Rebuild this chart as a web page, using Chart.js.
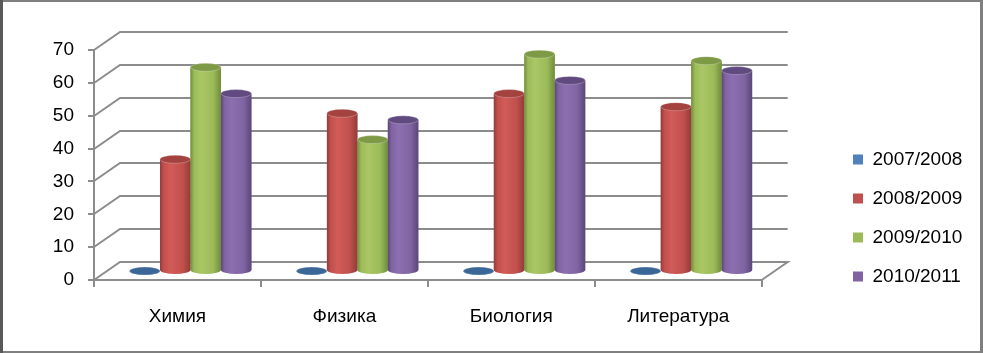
<!DOCTYPE html>
<html>
<head>
<meta charset="utf-8">
<script src="https://cdn.jsdelivr.net/npm/chart.js@4.4.1/dist/chart.umd.min.js"></script>
<style>
  html, body { margin: 0; padding: 0; background: #fff; }
  #wrap { width: 983px; height: 353px; }
</style>
</head>
<body>
<div id="wrap"><canvas id="chart" width="983" height="353"></canvas></div>
<script>
// Data
const subjects = ['Химия', 'Физика', 'Биология', 'Литература'];
const years = ['2007/2008', '2008/2009', '2009/2010', '2010/2011'];
const values0708 = [0, 0, 0, 0];
const values0809 = [34, 48, 54, 50];
const values0910 = [62, 40, 66, 64];
const values1011 = [54, 46, 58, 61];
const yTicks = [0, 10, 20, 30, 40, 50, 60, 70];

// Office colours: base, edge shadow, highlight, top cap
const SERIES_COLORS = [
  { base: '#4F81BD', dark: '#34577F', light: '#6A97CC', cap: '#3A6698' },
  { base: '#C0504D', dark: '#933B39', light: '#D25B58', cap: '#A3423F' },
  { base: '#9BBB59', dark: '#718C3C', light: '#AAC764', cap: '#7E9A46' },
  { base: '#8064A2', dark: '#5B4679', light: '#8C6FB0', cap: '#614A80' }
];
const GRID_COLOR = '#8C8C8C';
const FONT = { family: '"Liberation Sans", Arial, sans-serif', size: 19 };

// 3D offsets: back wall and middle of the depth where the cylinders stand
const WALL_X = 26, WALL_Y = -18;
const DEPTH_X = 13, DEPTH_Y = -9;

// Back wall gridlines and floor
const wallPlugin = {
  id: 'wall',
  beforeDatasetsDraw(chart) {
    const { ctx, chartArea: a, scales: { y } } = chart;
    ctx.save();
    ctx.strokeStyle = GRID_COLOR;
    ctx.lineWidth = 2;
    yTicks.forEach(v => {
      const py = Math.round(y.getPixelForValue(v));
      ctx.beginPath();
      ctx.moveTo(a.left, py);
      ctx.lineTo(a.left + WALL_X, py + WALL_Y);
      ctx.lineTo(a.right + WALL_X, py + WALL_Y);
      if (v === 0) ctx.lineTo(a.right, py);
      ctx.stroke();
    });
    ctx.restore();
    // push the bars back to the middle of the floor
    ctx.save();
    ctx.translate(DEPTH_X, DEPTH_Y);
  },
  afterDatasetsDraw(chart) {
    const ctx = chart.ctx;
    chart.data.datasets.forEach((ds, i) => {
      const meta = chart.getDatasetMeta(i);
      if (meta.hidden) return;
      const c = SERIES_COLORS[i];
      meta.data.forEach(bar => {
        const { x, y, base, width } = bar.getProps(['x', 'y', 'base', 'width'], true);
        const rx = width / 2, ry = 4, l = x - rx;
        const g = ctx.createLinearGradient(l, 0, l + width, 0);
        g.addColorStop(0, c.dark);
        g.addColorStop(0.12, c.base);
        g.addColorStop(0.35, c.light);
        g.addColorStop(0.75, c.base);
        g.addColorStop(1, c.dark);
        ctx.fillStyle = g;
        ctx.beginPath();
        ctx.moveTo(l, y);
        ctx.lineTo(l, base);
        ctx.ellipse(x, base, rx, ry, 0, Math.PI, 0, true);
        ctx.lineTo(l + width, y);
        ctx.closePath();
        ctx.fill();
        // top cap
        ctx.beginPath();
        ctx.ellipse(x, y, rx, ry, 0, 0, Math.PI * 2);
        ctx.fillStyle = c.cap;
        ctx.fill();
        ctx.strokeStyle = 'rgba(255,255,255,0.25)';
        ctx.lineWidth = 1;
        ctx.stroke();
      });
    });
    ctx.restore();
  }
};

// Legend placement and image frame
const framePlugin = {
  id: 'frame',
  afterLayout(chart) {
    const lg = chart.legend;
    const pad = lg.options.labels.padding;
    const w = lg.width, h = lg.height;
    lg.left = 853 - pad;
    lg.top = 150 - pad;
    lg.right = lg.left + w;
    lg.bottom = lg.top + h;
  },
  afterDraw(chart) {
    const ctx = chart.ctx;
    ctx.save();
    ctx.fillStyle = '#7F7F7F';
    ctx.fillRect(0, 0, 983, 2);
    ctx.fillRect(0, 351, 983, 2);
    ctx.fillRect(980, 0, 3, 353);
    ctx.fillStyle = '#595959';
    ctx.fillRect(0, 0, 3, 353);
    ctx.restore();
  }
};

const datasets = [values0708, values0809, values0910, values1011].map((vals, i) => ({
  label: years[i],
  data: vals,
  backgroundColor: SERIES_COLORS[i].base,
  borderWidth: 0,
  categoryPercentage: 0.73,
  barPercentage: 1
}));

new Chart(document.getElementById('chart'), {
  type: 'bar',
  data: { labels: subjects, datasets: datasets },
  plugins: [wallPlugin, framePlugin],
  options: {
    responsive: false,
    devicePixelRatio: 1,
    animation: false,
    layout: { padding: { left: 10, top: 50, right: 82, bottom: 23 } },
    plugins: {
      legend: {
        position: 'right',
        align: 'start',
        labels: { boxWidth: 10, boxHeight: 10, padding: 20, color: '#000', font: FONT }
      },
      tooltip: { enabled: false }
    },
    scales: {
      x: {
        grid: { drawOnChartArea: false, drawTicks: true, tickLength: 7, color: GRID_COLOR, lineWidth: 2 },
        border: { color: GRID_COLOR, width: 2 },
        ticks: { color: '#000', font: FONT, padding: 18 },
        afterFit: s => { s.height = 50; }
      },
      y: {
        min: 0,
        max: 70,
        ticks: { stepSize: 10, color: '#000', font: FONT, padding: 14 },
        grid: { drawOnChartArea: false, drawTicks: true, tickLength: 6, color: GRID_COLOR, lineWidth: 2 },
        border: { color: GRID_COLOR, width: 2 },
        afterFit: s => { s.width = 84; }
      }
    }
  }
});
</script>
</body>
</html>
